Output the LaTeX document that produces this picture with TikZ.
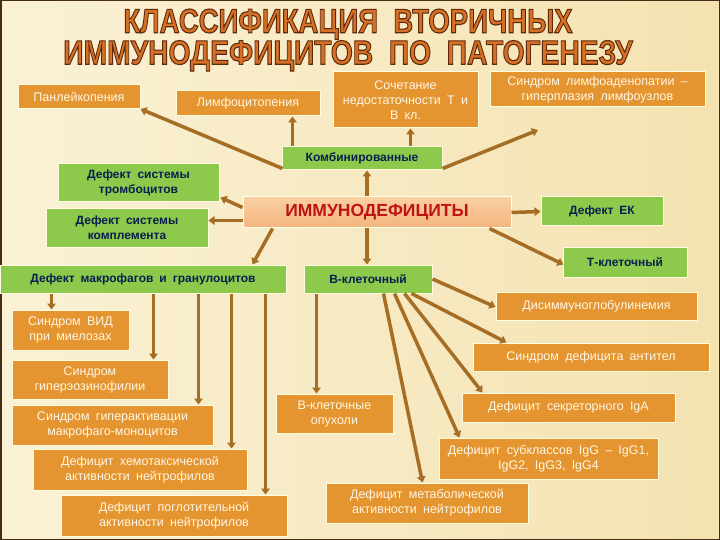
\documentclass[tikz,border=0pt]{standalone}
\usepackage{fontspec}
\setmainfont{Liberation Sans}
\usepackage{graphicx}
\usetikzlibrary{arrows.meta,calc}
\definecolor{bgL}{RGB}{250,241,214}
\definecolor{bgR}{RGB}{244,226,176}
\definecolor{boxorange}{RGB}{229,149,48}
\definecolor{boxgreen}{RGB}{141,201,74}
\definecolor{textnavy}{RGB}{10,30,80}
\definecolor{textcream}{RGB}{255,246,228}
\definecolor{arrowbrown}{RGB}{165,110,36}
\definecolor{peachA}{RGB}{250,208,162}
\definecolor{peachB}{RGB}{243,180,125}
\definecolor{immred}{RGB}{190,20,20}
\definecolor{titleor}{RGB}{214,112,38}
\definecolor{framec}{RGB}{70,45,20}
\newcommand{\widesp}{\spaceskip=0.5em plus 0.1em\relax}
\newcommand{\oboxfont}{\fontsize{12.5}{15}\selectfont\widesp}
\newcommand{\gboxfont}{\bfseries\fontsize{12}{15}\selectfont\widesp}
\newcommand{\outlinetext}[1]{\special{pdf:literal direct 2 Tr 1.1 w 0.37 0.16 0.04 RG}#1\special{pdf:literal direct 0 Tr}}
\tikzset{
  box/.style={draw=white!88!yellow, line width=1pt, inner sep=2pt, align=center},
  obox/.style={box, fill=boxorange, text=textcream, font=\oboxfont},
  gbox/.style={box, fill=boxgreen, text=textnavy, font=\gboxfont},
  arr/.style={draw=arrowbrown, line width=3.5pt, -{Triangle[length=6pt,width=8.5pt]}},
  ttl/.style={font=\bfseries\fontsize{34}{29}\selectfont, inner sep=0pt, text=titleor, align=center},
}
\begin{document}
\begin{tikzpicture}[x=1pt,y=-1pt]
\useasboundingbox (0,0) rectangle (720,540);
\shade[left color=bgL, right color=bgR] (0,0) rectangle (720,540);
\draw[framec, line width=3pt] (0,0) rectangle (720,540);

% title
\node[ttl] (title) at (348,40) {\scalebox{0.81}[1]{\outlinetext{КЛАССИФИКАЦИЯ\ \ ВТОРИЧНЫХ}}\\
  \scalebox{0.83}[1]{\outlinetext{ИММУНОДЕФИЦИТОВ\ \ ПО\ \ ПАТОГЕНЕЗУ}}};

% top row
\node[obox, minimum width=122pt, minimum height=24pt] (pan) at (79,96.5) {Панлейкопения};
\node[obox, minimum width=144pt, minimum height=25pt] (lim) at (248,103.5) {Лимфоцитопения};
\node[obox, minimum width=145pt, minimum height=56pt] (soch) at (405.5,100) {Сочетание\\недостаточности Т и\\В кл.};
\node[obox, minimum width=215pt, minimum height=35pt] (sind) at (597.5,89.5) {Синдром лимфоаденопатии –\\гиперплазия лимфоузлов};

% green level
\node[gbox, minimum width=160pt, minimum height=23pt] (komb) at (362,158.5) {Комбинированные};
\node[gbox, minimum width=161pt, minimum height=38pt] (trom) at (138.5,183) {Дефект системы\\тромбоцитов};
\node[gbox, minimum width=162pt, minimum height=38pt] (kompl) at (127,228) {Дефект системы\\комплемента};
\node[box, draw=white!90!yellow, top color=peachA, bottom color=peachB, minimum width=268pt, minimum height=31pt,
  text=immred, font=\bfseries\fontsize{17.5}{20}\selectfont] (immuno) at (377,212.5) {ИММУНОДЕФИЦИТЫ};
\node[gbox, minimum width=122pt, minimum height=29pt] (ek) at (602,211.5) {Дефект ЕК};
\node[gbox, minimum width=124pt, minimum height=30pt] (tkl) at (625,262) {Т-клеточный};
\node[gbox, minimum width=286pt, minimum height=28pt] (makr) at (143,279) {Дефект макрофагов и гранулоцитов};
\node[gbox, minimum width=128pt, minimum height=28pt] (bkl) at (368,279) {В-клеточный};

% B-cell children
\node[obox, minimum width=201pt, minimum height=28pt] (disim) at (596.5,306) {Дисиммуноглобулинемия};
\node[obox, minimum width=236pt, minimum height=28pt] (antit) at (591,357) {Синдром дефицита антител};
\node[obox, minimum width=213pt, minimum height=29pt] (iga) at (568.5,407.5) {Дефицит секреторного IgA};
\node[obox, minimum width=219pt, minimum height=41pt] (igg) at (548.5,458.5) {Дефицит субклассов IgG – IgG1,\\IgG2, IgG3, IgG4};
\node[obox, minimum width=202pt, minimum height=40pt] (metab) at (427,503) {Дефицит метаболической\\активности нейтрофилов};
\node[obox, minimum width=117pt, minimum height=39pt] (opuh) at (334.5,413.5) {В-клеточные\\опухоли};

% macrophage children
\node[obox, minimum width=117pt, minimum height=40pt] (vid) at (70.5,330) {Синдром ВИД\\при миелозах};
\node[obox, minimum width=156pt, minimum height=39pt] (eoz) at (90,379.5) {Синдром\\гиперэозинофилии};
\node[obox, minimum width=201pt, minimum height=40pt] (gipak) at (112.5,425) {Синдром гиперактивации\\макрофаго-моноцитов};
\node[obox, minimum width=214pt, minimum height=41pt] (hemo) at (140,469.5) {Дефицит хемотаксической\\активности нейтрофилов};
\node[obox, minimum width=226pt, minimum height=41pt] (pogl) at (174,515.5) {Дефицит поглотительной\\активности нейтрофилов};

% connectors from Комбинированные
\draw[arr] ($(komb.south west)+(1,-2)$) -- (pan.south east);
\coordinate (k1) at ($(komb.north west)+(11,0)$);
\draw[arr] (k1) -- (k1 |- lim.south);
\coordinate (k2) at ($(komb.north west)+(129,0)$);
\draw[arr] (k2) -- (k2 |- soch.south);
\coordinate (sa) at (538,130);
\draw[arr] ($(komb.south east)+(0,-2)$) -- (sa);

% connectors from ИММУНОДЕФИЦИТЫ
\coordinate (i1) at ($(immuno.north)+(-10,0)$);
\draw[arr] (i1) -- (i1 |- komb.south);
\draw[arr] ($(immuno.north west)+(0,11)$) -- ($(trom.south east)+(1,-5)$);
\coordinate (i2) at ($(immuno.north west)+(0,24)$);
\draw[arr] (i2) -- (i2 -| kompl.east);
\draw[arr] ($(immuno.south west)+(30,0)$) -- ($(makr.north east)+(-34,0)$);
\coordinate (i3) at ($(immuno.south)+(-10,0)$);
\draw[arr] (i3) -- (i3 |- bkl.north);
\draw[arr] (immuno.east) -- (ek.west);
\draw[arr] ($(immuno.south east)+(-22,0)$) -- ($(tkl.north west)+(1,18)$);

% from Дефект макрофагов
\coordinate (m1) at ($(makr.south west)+(52,0)$);
\coordinate (m2) at ($(makr.south west)+(154,0)$);
\coordinate (m3) at ($(makr.south west)+(199,0)$);
\coordinate (m4) at ($(makr.south west)+(232,0)$);
\coordinate (m5) at ($(makr.south west)+(266,0)$);
\draw[arr] (m1) -- (m1 |- vid.north);
\draw[arr] (m2) -- (m2 |- eoz.north);
\draw[arr] (m3) -- (m3 |- gipak.north);
\draw[arr] (m4) -- (m4 |- hemo.north);
\draw[arr] (m5) -- (m5 |- pogl.north);

% from В-клеточный
\coordinate (b1) at ($(bkl.south west)+(13,0)$);
\draw[arr] (b1) -- (b1 |- opuh.north);
\draw[arr] (bkl.east) -- ($(disim.west)+(0,1)$);
\draw[arr] ($(bkl.south west)+(108,0)$) -- ($(antit.north west)+(34,0)$);
\draw[arr] ($(bkl.south west)+(101,0)$) -- ($(iga.north west)+(21,0)$);
\draw[arr] ($(bkl.south west)+(91,0)$) -- ($(igg.north west)+(21,0)$);
\draw[arr] ($(bkl.south west)+(80,0)$) -- ($(metab.north west)+(97,0)$);
\end{tikzpicture}
\end{document}
